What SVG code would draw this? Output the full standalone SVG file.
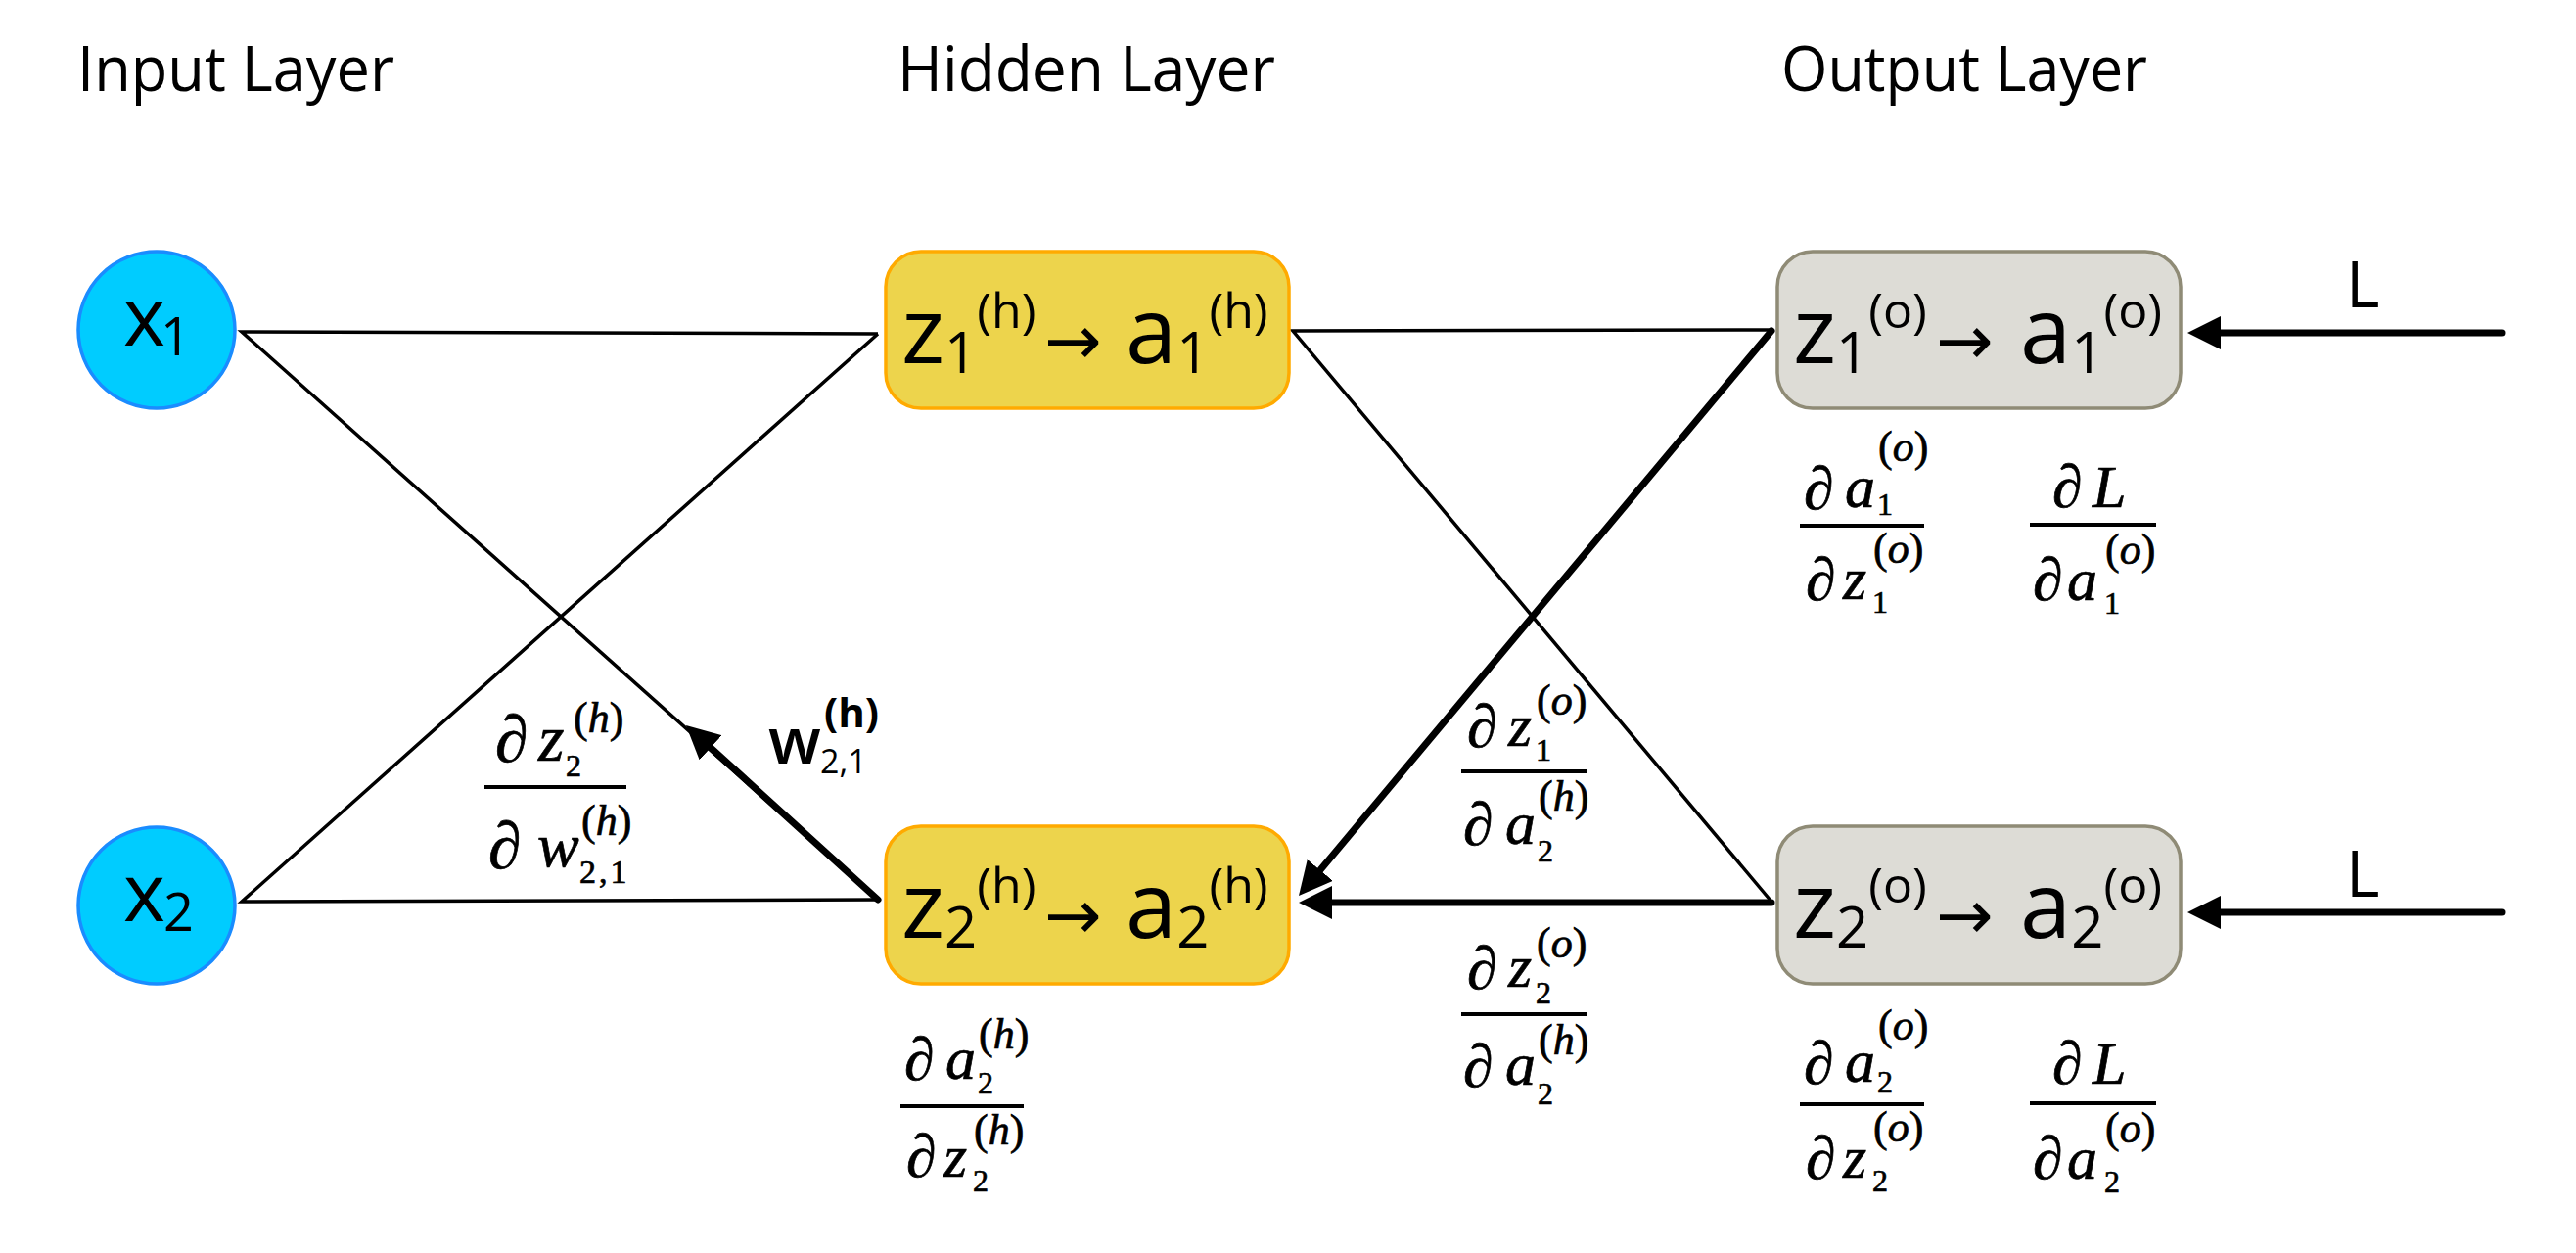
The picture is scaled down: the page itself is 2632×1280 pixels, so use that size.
<svg xmlns="http://www.w3.org/2000/svg" width="2632" height="1280" viewBox="0 0 2632 1280">
<style>
.hdr{font-family:"Open Sans","Noto Sans",sans-serif;font-size:64px;fill:#000}
.nt{font-family:"Open Sans","Noto Sans",sans-serif;fill:#000}
.big{font-size:94px}.sb{font-size:58px}.sp{font-size:50px}
.arw{font-family:"DejaVu Sans",sans-serif;font-size:70px}
.inp{fill:#00CCFF;stroke:#1A8CFF;stroke-width:3.5}
.hid{fill:#EDD44C;stroke:#FFAA00;stroke-width:3.5}
.out{fill:#DDDCD6;stroke:#8F8B76;stroke-width:3.5}
.m{font-family:"Liberation Serif","DejaVu Serif",serif;fill:#000;stroke:#000;stroke-width:0.7;font-size:62px}
.mb{font-size:68px}
.mw{font-size:64px}
.mi{font-style:italic}
.ms{font-size:32px}.mp{font-size:44px}
.ms1{font-size:34px;letter-spacing:3px}
.bar{fill:#000}
.thin{stroke:#000;stroke-width:3.5;fill:none;stroke-linejoin:miter;stroke-miterlimit:10}
.thick{stroke:#000;stroke-width:7;fill:none;stroke-linecap:round;marker-end:url(#ah)}
.w{font-family:"Open Sans","Noto Sans",sans-serif;fill:#000}
</style>
<defs>
<marker id="ah" markerUnits="userSpaceOnUse" viewBox="0 0 34 34" markerWidth="34" markerHeight="34" refX="3" refY="17" orient="auto">
<path d="M0,0 L34,17 L0,34 z" fill="#000"/>
</marker>
</defs>
<rect width="2632" height="1280" fill="#fff"/>

<g id="headers">
<text class="hdr" x="79" y="93" textLength="324" lengthAdjust="spacingAndGlyphs">Input Layer</text>
<text class="hdr" x="917" y="93" textLength="386" lengthAdjust="spacingAndGlyphs">Hidden Layer</text>
<text class="hdr" x="1820" y="93" textLength="374" lengthAdjust="spacingAndGlyphs">Output Layer</text>
</g>

<g id="connectors">
<polyline class="thin" points="897,341 247,339 897,919"/>
<polyline class="thin" points="897,341 247,921 897,919"/>
<polyline class="thin" points="1810,337 1321,338 1810,921"/>
<line class="thick" x1="897" y1="919" x2="723.9" y2="761.8"/>
<line class="thick" x1="1810" y1="338" x2="1346.9" y2="891.2"/>
<line class="thick" x1="1810" y1="922" x2="1358" y2="922"/>
<line class="thick" x1="2556" y1="340" x2="2266" y2="340"/>
<line class="thick" x1="2556" y1="932" x2="2266" y2="932"/>
</g>

<g id="x1">
<circle class="inp" cx="160" cy="337" r="80"/>
<text class="nt"><tspan x="126" y="353" font-size="82">x</tspan><tspan x="164" y="363" font-size="54">1</tspan></text>
</g>
<g id="x2">
<circle class="inp" cx="160" cy="925" r="80"/>
<text class="nt"><tspan x="126" y="941" font-size="82">x</tspan><tspan x="167" y="951" font-size="54">2</tspan></text>
</g>

<g id="h1">
<rect class="hid" x="905" y="257" width="412" height="160" rx="36"/>
<text class="nt"><tspan class="big" x="921" y="371">z</tspan><tspan class="sb" dy="10">1</tspan><tspan class="sp" dy="-46">(h)</tspan></text>
<text class="arw" x="1067" y="372">→</text>
<text class="nt"><tspan class="big" x="1150" y="371">a</tspan><tspan class="sb" dy="10">1</tspan><tspan class="sp" dy="-46">(h)</tspan></text>
</g>
<g id="h2">
<rect class="hid" x="905" y="844" width="412" height="161" rx="36"/>
<text class="nt"><tspan class="big" x="921" y="958">z</tspan><tspan class="sb" dy="10">2</tspan><tspan class="sp" dy="-46">(h)</tspan></text>
<text class="arw" x="1067" y="959">→</text>
<text class="nt"><tspan class="big" x="1150" y="958">a</tspan><tspan class="sb" dy="10">2</tspan><tspan class="sp" dy="-46">(h)</tspan></text>
</g>
<g id="o1">
<rect class="out" x="1816" y="257" width="412" height="160" rx="36"/>
<text class="nt"><tspan class="big" x="1832" y="371">z</tspan><tspan class="sb" dy="10">1</tspan><tspan class="sp" dy="-46">(o)</tspan></text>
<text class="arw" x="1978" y="372">→</text>
<text class="nt"><tspan class="big" x="2064" y="371">a</tspan><tspan class="sb" dy="10">1</tspan><tspan class="sp" dy="-46">(o)</tspan></text>
</g>
<g id="o2">
<rect class="out" x="1816" y="844" width="412" height="161" rx="36"/>
<text class="nt"><tspan class="big" x="1832" y="958">z</tspan><tspan class="sb" dy="10">2</tspan><tspan class="sp" dy="-46">(o)</tspan></text>
<text class="arw" x="1978" y="959">→</text>
<text class="nt"><tspan class="big" x="2064" y="958">a</tspan><tspan class="sb" dy="10">2</tspan><tspan class="sp" dy="-46">(o)</tspan></text>
</g>

<g id="labels">
<text class="nt" x="2397" y="314" font-size="66">L</text>
<text class="nt" x="2397" y="916" font-size="66">L</text>

<g id="w21">
<text class="w" x="785" y="780" font-size="66" font-weight="600">w</text>
<text class="w" x="838" y="790" font-size="34">2,1</text>
<text class="w" x="842" y="743" font-size="42" font-weight="700">(h)</text>
</g>

<g id="f1">
<rect class="bar" x="495" y="802" width="145" height="4"/>
<text class="m mb" x="506" y="778">∂</text>
<text class="m mb mi" x="550" y="777">z</text>
<text class="m ms" x="578" y="793">2</text>
<text class="m mp" x="586" y="748">(<tspan class="mi">h</tspan>)</text>
<text class="m mb" x="499" y="887">∂</text>
<text class="m mw mi" x="549" y="885">w</text>
<text class="m ms1" x="592" y="902">2,1</text>
<text class="m mp" x="594" y="853">(<tspan class="mi">h</tspan>)</text>
</g>

<g id="f2">
<rect class="bar" x="1839" y="535" width="127" height="4"/>
<text class="m" x="1843" y="520">∂</text>
<text class="m mi" x="1885" y="518">a</text>
<text class="m ms" x="1918" y="526">1</text>
<text class="m mp" x="1919" y="471">(<tspan class="mi">o</tspan>)</text>
<text class="m" x="1845" y="613">∂</text>
<text class="m mi" x="1883" y="612">z</text>
<text class="m ms" x="1913" y="626">1</text>
<text class="m mp" x="1914" y="575">(<tspan class="mi">o</tspan>)</text>
</g>
<g id="f3">
<rect class="bar" x="2074" y="534" width="129" height="4"/>
<text class="m" x="2097" y="518">∂</text>
<text class="m mi" x="2138" y="518">L</text>
<text class="m" x="2077" y="613">∂</text>
<text class="m mi" x="2112" y="613">a</text>
<text class="m ms" x="2150" y="627">1</text>
<text class="m mp" x="2151" y="576">(<tspan class="mi">o</tspan>)</text>
</g>

<g id="f2b">
<rect class="bar" x="1839" y="1126" width="127" height="4"/>
<text class="m" x="1843" y="1107">∂</text>
<text class="m mi" x="1885" y="1105">a</text>
<text class="m ms" x="1918" y="1116">2</text>
<text class="m mp" x="1919" y="1062">(<tspan class="mi">o</tspan>)</text>
<text class="m" x="1845" y="1204">∂</text>
<text class="m mi" x="1883" y="1203">z</text>
<text class="m ms" x="1913" y="1217">2</text>
<text class="m mp" x="1914" y="1166">(<tspan class="mi">o</tspan>)</text>
</g>
<g id="f3b">
<rect class="bar" x="2074" y="1125" width="129" height="4"/>
<text class="m" x="2097" y="1107">∂</text>
<text class="m mi" x="2138" y="1107">L</text>
<text class="m" x="2077" y="1204">∂</text>
<text class="m mi" x="2112" y="1204">a</text>
<text class="m ms" x="2150" y="1218">2</text>
<text class="m mp" x="2151" y="1167">(<tspan class="mi">o</tspan>)</text>
</g>

<g id="f4">
<rect class="bar" x="920" y="1128" width="126" height="4"/>
<text class="m" x="924" y="1103">∂</text>
<text class="m mi" x="966" y="1102">a</text>
<text class="m ms" x="999" y="1117">2</text>
<text class="m mp" x="1000" y="1071">(<tspan class="mi">h</tspan>)</text>
<text class="m" x="926" y="1202">∂</text>
<text class="m mi" x="964" y="1202">z</text>
<text class="m ms" x="994" y="1217">2</text>
<text class="m mp" x="995" y="1169">(<tspan class="mi">h</tspan>)</text>
</g>

<g id="f5">
<rect class="bar" x="1493" y="786" width="128" height="4"/>
<text class="m" x="1499" y="763">∂</text>
<text class="m mi" x="1541" y="762">z</text>
<text class="m ms" x="1569" y="777">1</text>
<text class="m mp" x="1570" y="730">(<tspan class="mi">o</tspan>)</text>
<text class="m" x="1495" y="863">∂</text>
<text class="m mi" x="1538" y="862">a</text>
<text class="m ms" x="1571" y="880">2</text>
<text class="m mp" x="1572" y="828">(<tspan class="mi">h</tspan>)</text>
</g>
<g id="f6">
<rect class="bar" x="1493" y="1034" width="128" height="4"/>
<text class="m" x="1499" y="1010">∂</text>
<text class="m mi" x="1541" y="1008">z</text>
<text class="m ms" x="1569" y="1025">2</text>
<text class="m mp" x="1570" y="978">(<tspan class="mi">o</tspan>)</text>
<text class="m" x="1495" y="1110">∂</text>
<text class="m mi" x="1538" y="1108">a</text>
<text class="m ms" x="1571" y="1128">2</text>
<text class="m mp" x="1572" y="1077">(<tspan class="mi">h</tspan>)</text>
</g>
</g>
</svg>
